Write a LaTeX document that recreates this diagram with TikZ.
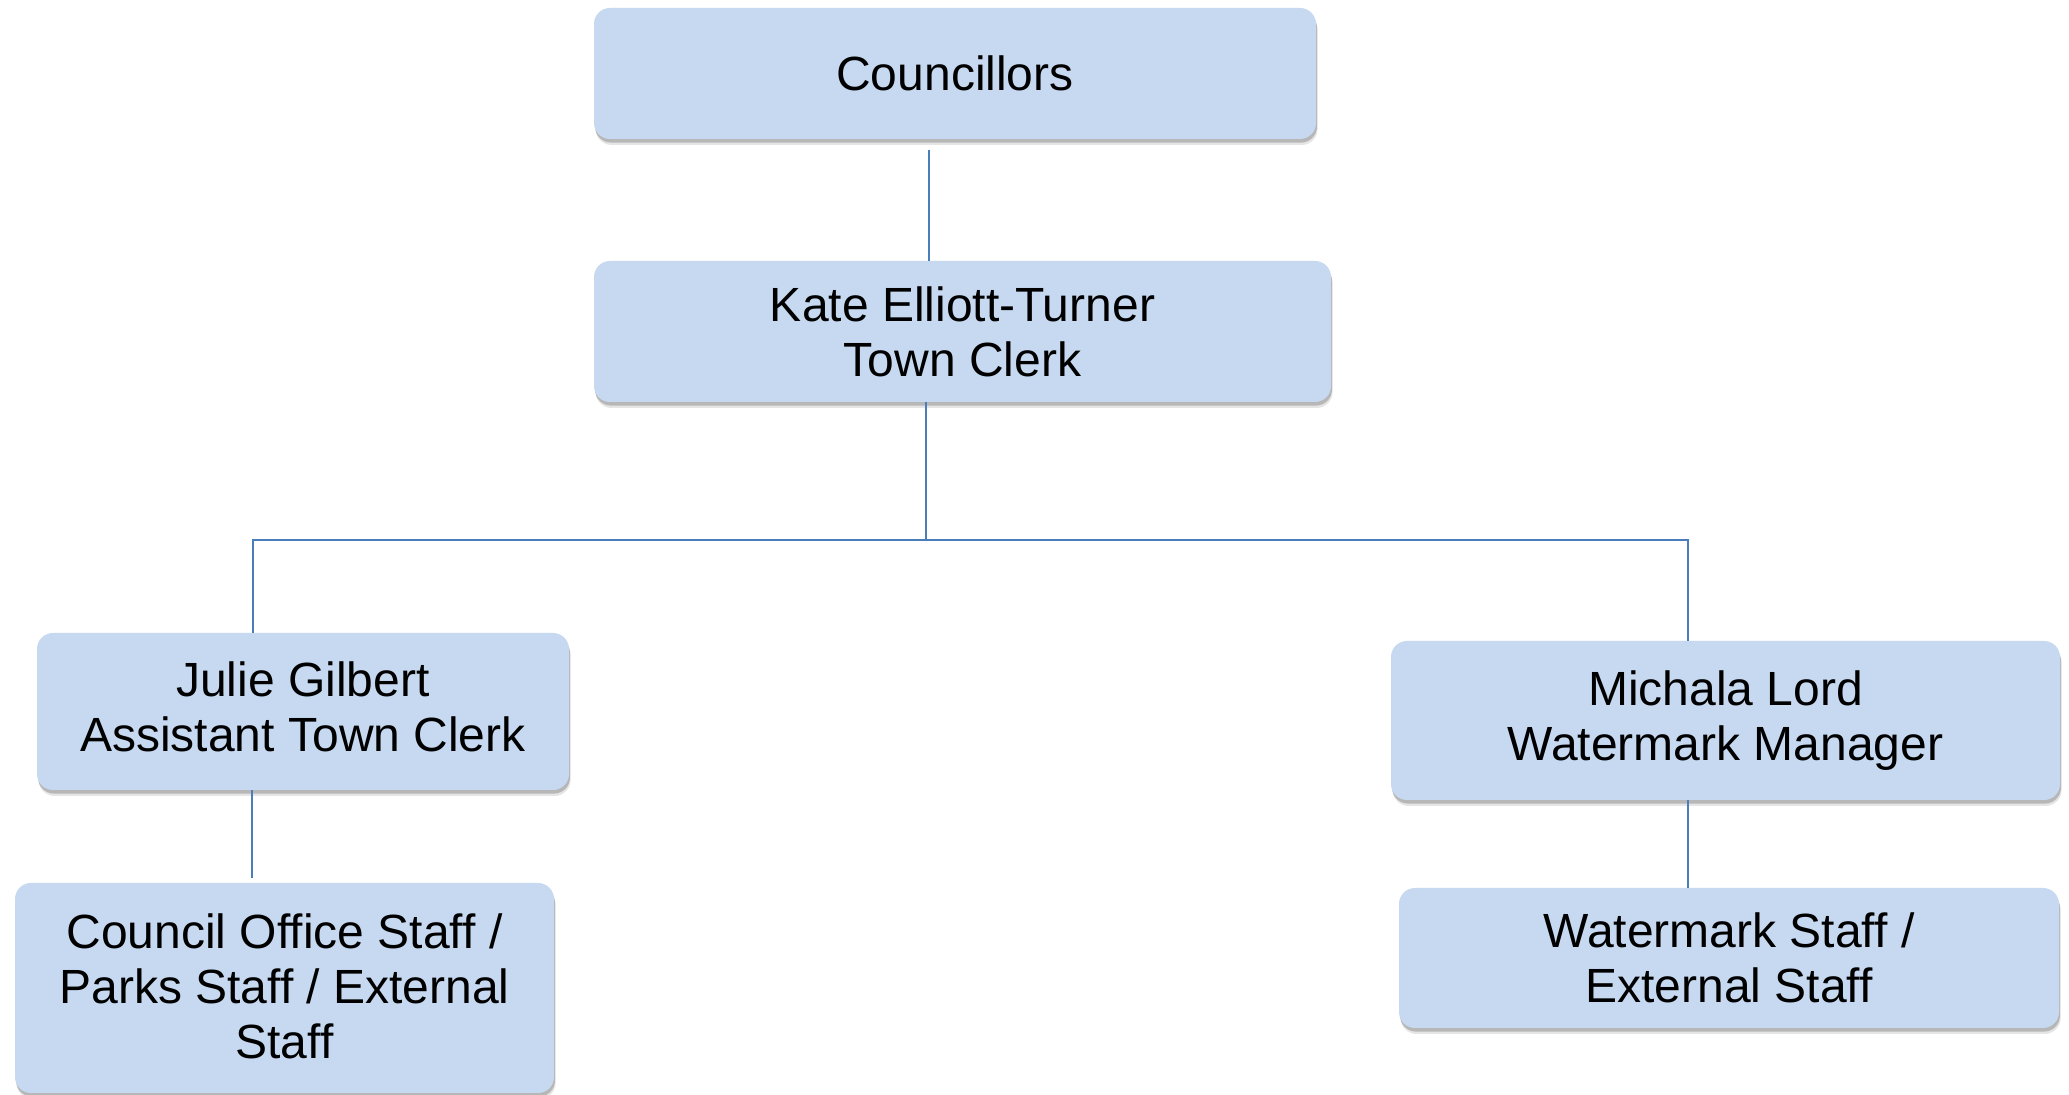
\documentclass[tikz,border=0pt]{standalone}
\usepackage{fontspec}
\setmainfont{Liberation Sans}
\usetikzlibrary{shadows}
\definecolor{boxfill}{HTML}{C6D9F1}
\definecolor{connblue}{HTML}{4A7EBB}
\begin{document}
\begin{tikzpicture}[x=0.5pt,y=-0.5pt,
  orgbox/.style={rectangle, rounded corners=8pt, fill=boxfill, draw=none,
    align=center, inner sep=0pt,
    font=\fontsize{24pt}{27.5pt}\selectfont,
    drop shadow={shadow xshift=0.8pt, shadow yshift=-3pt, fill=black, opacity=0.10},
    drop shadow={shadow xshift=0.5pt, shadow yshift=-1.8pt, fill=black, opacity=0.20}},
  conn/.style={draw=connblue, line width=0.75pt}]
\useasboundingbox (0,0) rectangle (2069,1095);
\fill[white] (0,0) rectangle (2069,1095);
\node[orgbox, minimum width=361pt, minimum height=65.5pt] (cou) at (955,73.5) {Councillors};
\node[orgbox, minimum width=368.5pt, minimum height=70.5pt] (kate) at (962.5,331.5) {Kate Elliott-Turner\\Town Clerk};
\node[orgbox, minimum width=266pt, minimum height=78.5pt] (julie) at (303,711.5) {Julie Gilbert\\Assistant Town Clerk\rule[-5pt]{0pt}{5pt}};
\node[orgbox, minimum width=269.5pt, minimum height=105pt] (office) at (284.5,988) {Council Office Staff /\\Parks Staff / External\\Staff\rule[-2pt]{0pt}{2pt}};
\node[orgbox, minimum width=334.5pt, minimum height=79.5pt] (mich) at (1725.5,720.5) {Michala Lord\\Watermark Manager};
\node[orgbox, minimum width=330pt, minimum height=70pt] (wstaff) at (1729,958) {Watermark Staff /\\External Staff};
\coordinate (ax) at (929,0);
\coordinate (bx) at (926,540);
\coordinate (lx) at (253,540);
\coordinate (rx) at (1688,540);
\coordinate (jx) at (252,0);
\draw[conn] ([yshift=-5.5pt]ax |- cou.south) -- (ax |- kate.north);
\draw[conn] (bx |- kate.south) -- (bx);
\draw[conn] (lx |- julie.north) -- (lx) -- (rx) -- (rx |- mich.north);
\draw[conn] (jx |- julie.south) -- ([yshift=2.5pt]jx |- office.north);
\draw[conn] (rx |- mich.south) -- (rx |- wstaff.north);
\end{tikzpicture}
\end{document}
